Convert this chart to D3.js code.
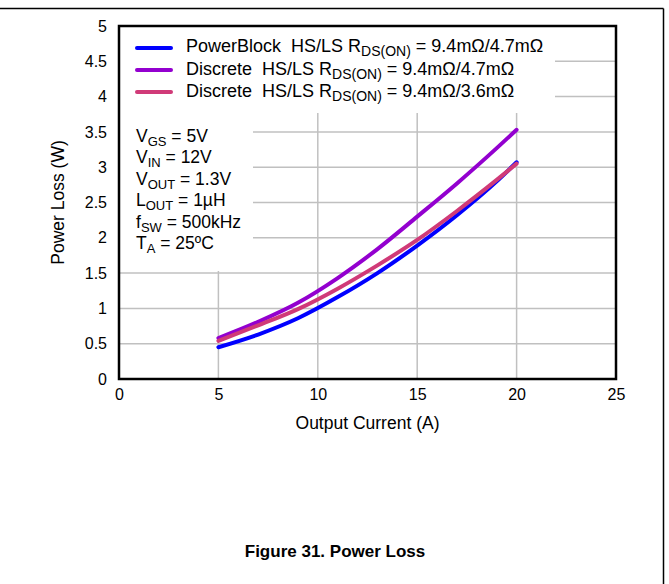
<!DOCTYPE html>
<html><head><meta charset="utf-8">
<script src="https://cdn.jsdelivr.net/npm/d3@7"></script>
<style>body{margin:0;background:#fff}svg{display:block}text{font-family:"Liberation Sans",Arial,sans-serif;white-space:pre}</style>
</head><body><svg id="c" width="669" height="584"></svg>
<script>
const xTicks = [0, 5, 10, 15, 20, 25];
const yTicks = [0, 0.5, 1, 1.5, 2, 2.5, 3, 3.5, 4, 4.5, 5];
const current = [5, 7, 9, 11, 13, 15, 17, 19, 20];
const powerBlock = [0.45, 0.63, 0.86, 1.16, 1.50, 1.89, 2.32, 2.80, 3.07];
const discrete47 = [0.58, 0.81, 1.08, 1.43, 1.84, 2.30, 2.77, 3.27, 3.53];
const discrete36 = [0.54, 0.76, 0.99, 1.28, 1.61, 1.97, 2.38, 2.82, 3.05];
const seriesNames = ["PowerBlock  HS/LS R", "Discrete  HS/LS R", "Discrete  HS/LS R"];
const seriesTails = [" = 9.4mΩ/4.7mΩ", " = 9.4mΩ/4.7mΩ", " = 9.4mΩ/3.6mΩ"];
const seriesColors = ["#0000ff", "#9300cf", "#d03a78"];
const conditions = [["V","GS"," = 5V"],["V","IN"," = 12V"],["V","OUT"," = 1.3V"],["L","OUT"," = 1µH"],["f","SW"," = 500kHz"],["T","A"," = 25ºC"]];

const svg = d3.select("#c");
const L = 119, R = 616, T = 26, B = 379;
const x = d3.scaleLinear().domain([0, 25]).range([L, R]);
const y = d3.scaleLinear().domain([0, 5]).range([B, T]);

// page frame
svg.append("line").attr("x1",0).attr("x2",663.5).attr("y1",8.5).attr("y2",8.5).attr("stroke","#000").attr("stroke-width",1.5);
svg.append("line").attr("x1",663.5).attr("x2",663.5).attr("y1",8.5).attr("y2",584).attr("stroke","#000").attr("stroke-width",1.5);

// grid
const g = svg.append("g");
g.selectAll(".gx").data(xTicks.slice(1,-1)).join("line")
  .attr("x1",d=>x(d)).attr("x2",d=>x(d)).attr("y1",T).attr("y2",B)
  .attr("stroke","#c0c0c0").attr("stroke-width",1.5);
g.selectAll(".gy").data(yTicks.slice(1,-1)).join("line")
  .attr("x1",L).attr("x2",R).attr("y1",d=>y(d)).attr("y2",d=>y(d))
  .attr("stroke","#c0c0c0").attr("stroke-width",1.5);

// white boxes behind legend and conditions
svg.append("rect").attr("x",L).attr("y",T).attr("width",436).attr("height",87).attr("fill","#fff");
svg.append("rect").attr("x",L).attr("y",T).attr("width",134).attr("height",245).attr("fill","#fff");

// lines
const line = d3.line().x((d,i)=>x(current[i])).y(d=>y(d)).curve(d3.curveMonotoneX);
[powerBlock, discrete47, discrete36].forEach((s,i)=>{
  svg.append("path").datum(s).attr("d",line).attr("fill","none")
    .attr("stroke",seriesColors[i]).attr("stroke-width",4).attr("stroke-linecap","round");
});

// border
svg.append("rect").attr("x",L).attr("y",T).attr("width",R-L).attr("height",B-T)
  .attr("fill","none").attr("stroke","#000").attr("stroke-width",2.5);

// axes
const xa = svg.append("g").attr("transform",`translate(0,${B})`)
  .call(d3.axisBottom(x).tickValues(xTicks).tickSize(0).tickPadding(10).tickFormat(d3.format("d")));
const ya = svg.append("g").attr("transform",`translate(${L},0)`)
  .call(d3.axisLeft(y).tickValues(yTicks).tickSize(0).tickPadding(12).tickFormat(d=>String(d)));
[xa,ya].forEach(a=>{a.select(".domain").remove();a.selectAll("text").attr("font-size",16).attr("fill","#000").attr("font-family","Liberation Sans, Arial, sans-serif");});

svg.append("text").attr("x",(L+R)/2).attr("y",429).attr("text-anchor","middle").attr("font-size",17.5).text("Output Current (A)");
svg.append("text").attr("transform",`translate(64,${(T+B)/2}) rotate(-90)`).attr("text-anchor","middle").attr("font-size",17.5).text("Power Loss (W)");

// legend
seriesNames.forEach((n,i)=>{
  const yy = 48 + i*22;
  svg.append("line").attr("x1",137).attr("x2",171).attr("y1",yy).attr("y2",yy)
    .attr("stroke",seriesColors[i]).attr("stroke-width",4).attr("stroke-linecap","round");
  const t = svg.append("text").attr("x",186).attr("y",52 + i*22.5).attr("font-size",18);
  t.append("tspan").text(n);
  t.append("tspan").attr("font-size",14).attr("dy",4).text("DS(ON)");
  t.append("tspan").attr("dy",-4).text(seriesTails[i]);
});

// conditions
conditions.forEach((c,i)=>{
  const t = svg.append("text").attr("x",136).attr("y",142 + i*21.4).attr("font-size",17.5);
  t.append("tspan").text(c[0]);
  t.append("tspan").attr("font-size",13).attr("dy",4).text(c[1]);
  t.append("tspan").attr("dy",-4).text(c[2]);
});

svg.append("text").attr("x",335).attr("y",557).attr("text-anchor","middle").attr("font-size",17).attr("font-weight","bold")
  .text("Figure 31. Power Loss");
</script></body></html>
